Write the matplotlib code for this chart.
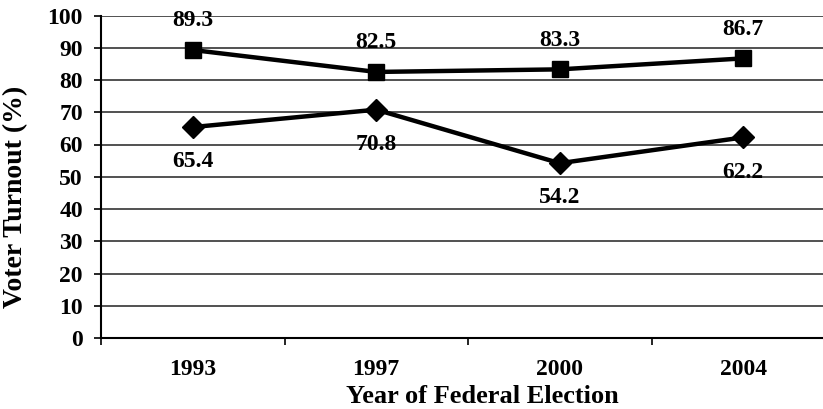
import matplotlib
matplotlib.use("Agg")
import matplotlib.pyplot as plt
from matplotlib.ticker import FixedLocator, MultipleLocator

plt.rcParams["font.family"] = ["Liberation Serif", "DejaVu Serif"]
plt.rcParams["font.weight"] = "bold"

years = ["1993", "1997", "2000", "2004"]
upper_turnout = [89.3, 82.5, 83.3, 86.7]
lower_turnout = [65.4, 70.8, 54.2, 62.2]

W, H = 823, 409
fig = plt.figure(figsize=(W / 100, H / 100), dpi=100)
# plot area runs past the right edge of the figure, as in the reference
ax = fig.add_axes([101 / W, (H - 338) / H, 734 / W, (338 - 15.5) / H])

x = list(range(len(years)))
ax.plot(x, upper_turnout, color="black", linewidth=3.2, marker="s",
        markersize=11.5, zorder=3)
ax.plot(x, lower_turnout, color="black", linewidth=3.2, marker="D",
        markersize=11.5, zorder=3)

for xi, v in zip(x, upper_turnout):
    ax.annotate(f"{v:.1f}", (xi, v), xytext=(0, 21), textcoords="offset points",
                ha="center", va="center", fontsize=17, fontweight="bold")
for xi, v in zip(x, lower_turnout):
    ax.annotate(f"{v:.1f}", (xi, v), xytext=(0, -25), textcoords="offset points",
                ha="center", va="center", fontsize=17, fontweight="bold")

ax.set_ylim(0, 100)
ax.set_xlim(-0.5, len(years) - 0.5)
ax.yaxis.set_major_locator(MultipleLocator(10))
ax.grid(axis="y", color="#333333", linewidth=1.2)
ax.set_axisbelow(True)

ax.set_xticks(x)
ax.set_xticklabels(years)
ax.xaxis.set_minor_locator(FixedLocator([-0.5, 0.5, 1.5, 2.5]))
ax.tick_params(axis="x", which="major", length=0, pad=15, labelsize=17)
ax.tick_params(axis="x", which="minor", length=5, width=1.2, direction="out")
ax.tick_params(axis="y", length=5, width=1.2, direction="out", pad=8,
               labelsize=17)

for side in ("top", "right"):
    ax.spines[side].set_visible(False)
for side in ("left", "bottom"):
    ax.spines[side].set_linewidth(1.5)

ax_h = 338 - 15.5
ax.set_xlabel("Year of Federal Election", fontsize=19, fontweight="bold",
              va="baseline")
ax.xaxis.set_label_coords((482 - 101) / 734, -(403 - 338) / ax_h)
ax.set_ylabel("Voter Turnout (%)", fontsize=20, fontweight="bold",
              va="center")
ax.yaxis.set_label_coords(-(101 - 16) / 734, (338 - 197) / ax_h)

fig.savefig("out.png", dpi=100)
